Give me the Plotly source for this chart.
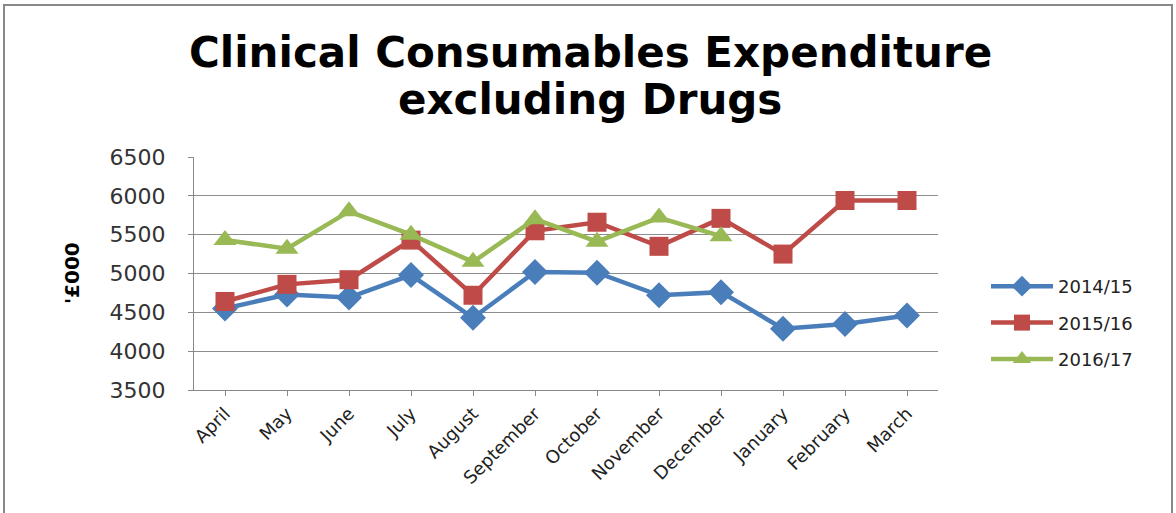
import plotly.graph_objects as go

months = ["April", "May", "June", "July", "August", "September", "October",
          "November", "December", "January", "February", "March"]
fy1415 = [4550, 4730, 4690, 4980, 4430, 5020, 5010, 4720, 4760, 4290, 4350, 4460]
fy1516 = [4640, 4860, 4920, 5430, 4720, 5550, 5660, 5350, 5710, 5250, 5940, 5940]
fy1617 = [5430, 5320, 5800, 5500, 5150, 5700, 5410, 5720, 5480]

series = [
    ("2014/15", fy1415, "#4A7EBB", "diamond", 20),
    ("2015/16", fy1516, "#BE4B48", "square", 19),
    ("2016/17", fy1617, "#98B954", "triangle-up", 20),
]

FONT = "DejaVu Sans, Verdana, sans-serif"

fig = go.Figure()
for name, vals, col, sym, sz in series:
    fig.add_trace(go.Scatter(
        x=months[:len(vals)], y=vals, name=name, mode="lines+markers",
        legendgroup=name,
        line=dict(color=col, width=4.5),
        marker=dict(symbol=sym, size=sz, color=col),
    ))

L, R, T, B = 194, 238, 157, 123
W, H = 1176, 513
pw, ph = W - L - R, H - T - B

def px_x(p):
    return (p - L) / pw

def px_y(p):
    return (H - B - p) / ph

fig.update_layout(
    width=W, height=H,
    margin=dict(l=L, r=R, t=T, b=B, autoexpand=False),
    paper_bgcolor="white", plot_bgcolor="white",
    font=dict(family=FONT, color="#333"),
    xaxis=dict(
        type="category", categoryorder="array", categoryarray=months,
        range=[-0.5, 11.5], tickangle=-45, showgrid=False,
        showline=True, linecolor="#888", linewidth=1,
        ticks="outside", ticklen=5, tickcolor="#888",
        tickfont=dict(size=18, color="#222", family=FONT),
    ),
    yaxis=dict(
        range=[3500, 6500], dtick=500, showgrid=True, gridcolor="#8c8c8c", gridwidth=1,
        showline=True, linecolor="#888", linewidth=1,
        ticks="outside", ticklen=5, tickcolor="#888",
        tickfont=dict(size=22, color="#333", family=FONT),
        ticklabelstandoff=18,
        zeroline=False,
    ),
    legend=dict(
        x=px_x(986), xanchor="left", y=px_y(268), yanchor="top",
        font=dict(size=18, color="#222", family=FONT), bgcolor="rgba(0,0,0,0)",
        tracegroupgap=10, itemwidth=62,
    ),
    showlegend=True,
)

fig.add_annotation(
    text="<b>Clinical Consumables Expenditure</b>",
    xref="paper", yref="paper", x=px_x(590), y=px_y(52),
    xanchor="center", yanchor="middle", showarrow=False,
    font=dict(size=42, color="black", family=FONT),
)
fig.add_annotation(
    text="<b>excluding Drugs</b>",
    xref="paper", yref="paper", x=px_x(590), y=px_y(100),
    xanchor="center", yanchor="middle", showarrow=False,
    font=dict(size=42, color="black", family=FONT),
)
fig.add_annotation(
    text="<b>'£000</b>", textangle=-90,
    xref="paper", yref="paper", x=px_x(72), y=px_y(273),
    xanchor="center", yanchor="middle", showarrow=False,
    font=dict(size=20, color="black", family=FONT),
)

fig.add_shape(type="rect", xref="paper", yref="paper",
              x0=px_x(4), x1=px_x(1172), y0=px_y(600), y1=px_y(5),
              line=dict(color="#888", width=2), fillcolor="rgba(0,0,0,0)")

fig.write_html("out.html", config={"displayModeBar": False},
               post_script="document.body.style.margin='0';document.body.style.padding='0';")
